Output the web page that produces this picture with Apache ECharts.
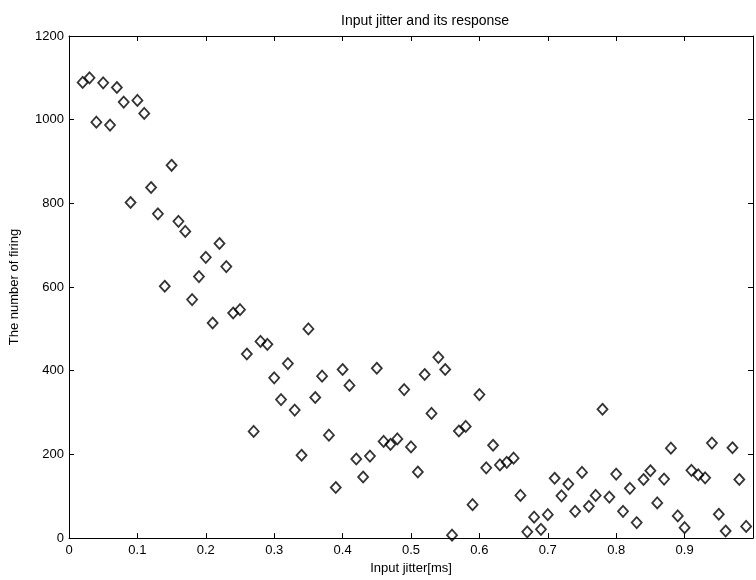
<!DOCTYPE html>
<html>
<head>
<meta charset="utf-8">
<script src="https://cdn.jsdelivr.net/npm/echarts@6/dist/echarts.min.js"></script>
<style>
  html, body { margin: 0; padding: 0; background: #fff; }
  #chart { width: 756px; height: 580px; }
</style>
</head>
<body>
<div id="chart"></div>
<script>
// Input jitter (ms) sampled every 0.01 ms, and the firing count observed at each
const jitter = [
  0.02, 0.03, 0.04, 0.05, 0.06, 0.07, 0.08, 0.09, 0.10, 0.11,
  0.12, 0.13, 0.14, 0.15, 0.16, 0.17, 0.18, 0.19, 0.20, 0.21,
  0.22, 0.23, 0.24, 0.25, 0.26, 0.27, 0.28, 0.29, 0.30, 0.31,
  0.32, 0.33, 0.34, 0.35, 0.36, 0.37, 0.38, 0.39, 0.40, 0.41,
  0.42, 0.43, 0.44, 0.45, 0.46, 0.47, 0.48, 0.49, 0.50, 0.51,
  0.52, 0.53, 0.54, 0.55, 0.56, 0.57, 0.58, 0.59, 0.60, 0.61,
  0.62, 0.63, 0.64, 0.65, 0.66, 0.67, 0.68, 0.69, 0.70, 0.71,
  0.72, 0.73, 0.74, 0.75, 0.76, 0.77, 0.78, 0.79, 0.80, 0.81,
  0.82, 0.83, 0.84, 0.85, 0.86, 0.87, 0.88, 0.89, 0.90, 0.91,
  0.92, 0.93, 0.94, 0.95, 0.96, 0.97, 0.98, 0.99
];
const firing = [
  1089, 1100, 994, 1088, 987, 1077, 1042, 802, 1046, 1015,
  838, 775, 602, 891, 757, 733, 570, 625, 671, 514,
  704, 649, 538, 546, 440, 255, 470, 463, 383, 331,
  417, 306, 198, 500, 336, 387, 246, 121, 403, 365,
  189, 146, 196, 406, 231, 224, 237, 355, 218, 158,
  391, 298, 432, 403, 7, 256, 267, 80, 343, 168,
  222, 175, 181, 191, 102, 15, 50, 21, 56, 143,
  101, 129, 64, 157, 76, 102, 308, 98, 153, 64,
  119, 37, 140, 161, 84, 141, 215, 53, 25, 162,
  151, 144, 227, 57, 17, 216, 140, 28
];

const xTicks = { min: 0, max: 1, interval: 0.1 };
const yTicks = { min: 0, max: 1200, interval: 200 };

const font = 'Liberation Sans, Arial, Helvetica, sans-serif';
const axisLine = { show: true, onZero: false, lineStyle: { color: '#000', width: 1 } };
const axisTick = { show: true, inside: true, length: 5, lineStyle: { color: '#000', width: 1 } };

const chart = echarts.init(document.getElementById('chart'), null, { renderer: 'canvas' });
chart.setOption({
  backgroundColor: '#fff',
  animation: false,
  title: {
    text: 'Input jitter and its response',
    left: 336,
    top: 9,
    textStyle: { fontFamily: font, fontSize: 14, fontWeight: 'normal', color: '#000' }
  },
  grid: { left: 68, top: 36, width: 690, height: 507, containLabel: false },
  xAxis: [
    {
      type: 'value',
      position: 'bottom',
      min: xTicks.min, max: xTicks.max, interval: xTicks.interval,
      name: 'Input jitter[ms]',
      nameLocation: 'middle',
      nameGap: 18,
      nameTextStyle: { fontFamily: font, fontSize: 13, color: '#000' },
      axisLine: axisLine,
      axisTick: axisTick,
      splitLine: { show: false },
      axisLabel: {
        fontFamily: font, fontSize: 13, color: '#000', margin: 6,
        formatter: v => (Math.abs(v - 1) < 1e-9 ? '' : String(+v.toFixed(1)))
      }
    },
    {
      type: 'value',
      position: 'top',
      min: xTicks.min, max: xTicks.max, interval: xTicks.interval,
      axisLine: axisLine,
      axisTick: axisTick,
      splitLine: { show: false },
      axisLabel: { show: false }
    }
  ],
  yAxis: [
    {
      type: 'value',
      position: 'left',
      min: yTicks.min, max: yTicks.max, interval: yTicks.interval,
      name: 'The number of firing',
      nameLocation: 'middle',
      nameGap: 48,
      nameRotate: 90,
      nameTextStyle: { fontFamily: font, fontSize: 13, color: '#000' },
      axisLine: axisLine,
      axisTick: axisTick,
      splitLine: { show: false },
      axisLabel: {
        fontFamily: font, fontSize: 13, color: '#000', margin: 5,
        formatter: v => String(v)
      }
    },
    {
      type: 'value',
      position: 'right',
      min: yTicks.min, max: yTicks.max, interval: yTicks.interval,
      axisLine: axisLine,
      axisTick: axisTick,
      splitLine: { show: false },
      axisLabel: { show: false }
    }
  ],
  series: [{
    type: 'scatter',
    xAxisIndex: 0,
    yAxisIndex: 0,
    data: jitter.map((x, i) => [x, firing[i]]),
    symbol: 'diamond',
    symbolSize: [10, 11],
    itemStyle: { color: 'rgba(255,255,255,0)', borderColor: '#000', borderWidth: 1.8 },
    clip: false
  }]
});
</script>
</body>
</html>
